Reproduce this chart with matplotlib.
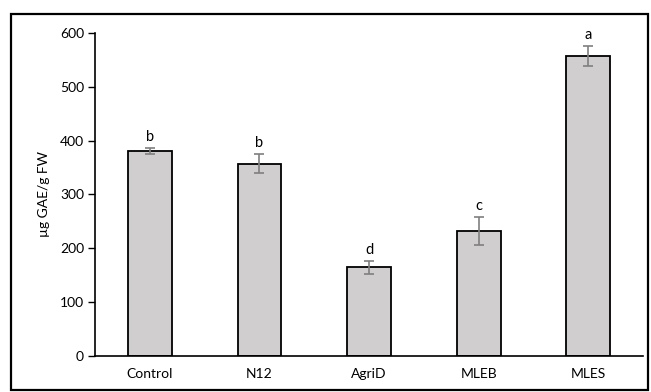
import matplotlib
matplotlib.use("Agg")
import matplotlib.pyplot as plt
from matplotlib.patches import Rectangle

plt.rcParams['font.family'] = ['Lato', 'DejaVu Sans']

# data
groups = ['Control', 'N12', 'AgriD', 'MLEB', 'MLES']
means = [381, 357, 165, 232, 557]
errs = [6, 18, 12, 26, 19]
letters = ['b', 'b', 'd', 'c', 'a']

fig = plt.figure(figsize=(6.51, 3.92), dpi=100)
ax = fig.add_axes([0.146, 0.092, 0.842, 0.824])

x = list(range(len(groups)))
ax.bar(x, means, width=0.4, color='#d0cece', edgecolor='black', linewidth=1.3, zorder=2)
ax.errorbar(x, means, yerr=errs, fmt='none', ecolor='#7f7f7f', elinewidth=1.2,
            capsize=3.5, capthick=1.2, zorder=3)

for xi, m, e, l in zip(x, means, errs, letters):
    ax.text(xi, m + e + 7, l, ha='center', va='bottom', fontsize=10.5)

ax.set_xlim(-0.5, 4.5)
ax.set_ylim(0, 600)
ax.set_yticks(range(0, 601, 100))
ax.set_xticks(x)
ax.set_xticklabels(groups)
ax.tick_params(axis='x', length=0, pad=9, labelsize=10)
ax.tick_params(axis='y', length=5, width=1, labelsize=10, pad=3)
ax.spines['top'].set_visible(False)
ax.spines['right'].set_visible(False)
ax.spines['left'].set_linewidth(1.2)
ax.spines['bottom'].set_linewidth(1.2)
ax.set_ylabel('µg GAE/g FW', fontsize=10, labelpad=7)

# frame around the whole chart
fig.patches.append(Rectangle((0.017, 0.005), 0.978, 0.96, transform=fig.transFigure,
                             fill=False, edgecolor='black', linewidth=1.6))

fig.savefig('out.png', dpi=100)
